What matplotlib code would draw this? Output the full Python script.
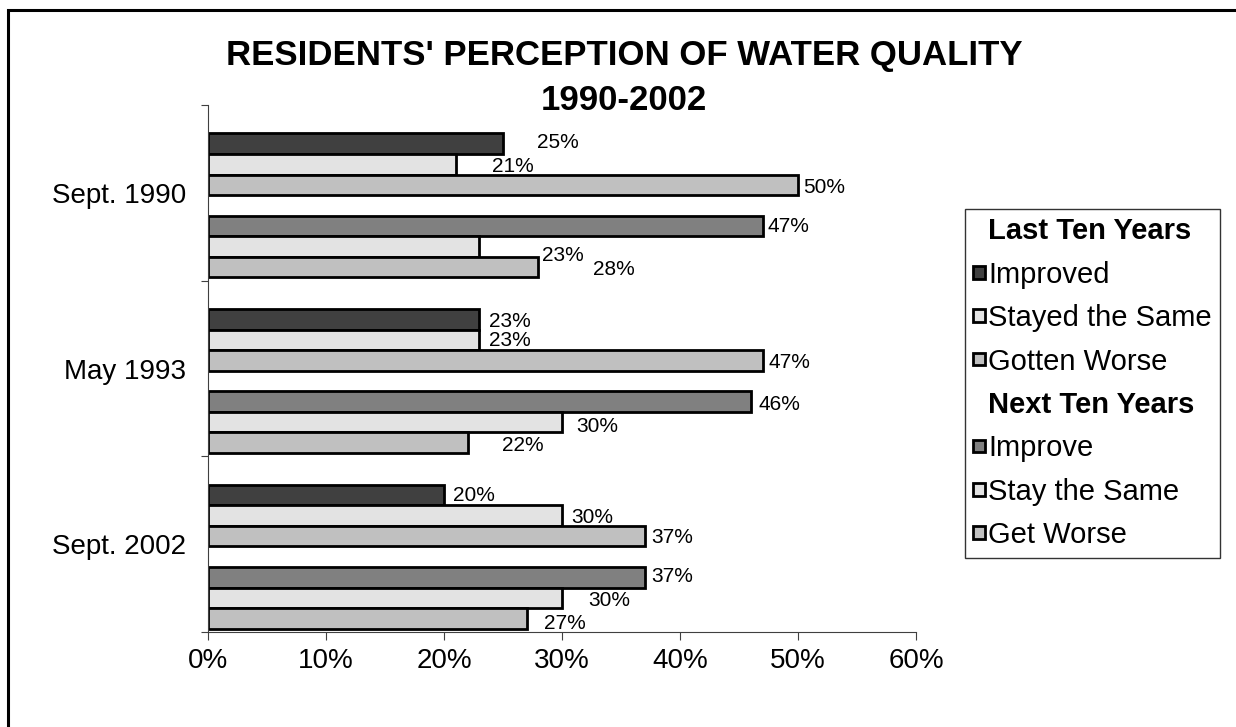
import numpy as np
import matplotlib
matplotlib.use('Agg')
import matplotlib.pyplot as plt
from matplotlib.patches import Patch, Rectangle

plt.rcParams['font.family'] = ['Liberation Sans', 'DejaVu Sans']

# data
periods = ['Sept. 1990', 'May 1993', 'Sept. 2002']
last_improved = [25, 23, 20]
last_same = [21, 23, 30]
last_worse = [50, 47, 37]
next_improve = [47, 46, 37]
next_same = [23, 30, 30]
next_worse = [28, 22, 27]

# (values, colour, slot in group, legend label)
series = [
    (last_improved, '#404040', 1, 'Improved'),
    (last_same, '#e3e3e3', 2, 'Stayed the Same'),
    (last_worse, '#c0c0c0', 3, 'Gotten Worse'),
    (next_improve, '#808080', 5, 'Improve'),
    (next_same, '#e3e3e3', 6, 'Stay the Same'),
    (next_worse, '#c0c0c0', 7, 'Get Worse'),
]

# hand-placed label nudges in pixels (dx right, dy down), like the original
nudges = [
    [(34, -3), (10, 0), (9, -1)],
    [(36, 1), (10, -1), (9, 0)],
    [(5, 1), (6, 0), (7, 0)],
    [(5, -1), (8, 1), (7, -2)],
    [(63, 7), (14, 3), (26, 1)],
    [(55, 1), (34, 1), (17, 3)],
]

fig = plt.figure(figsize=(12.36, 7.27), dpi=100)
ax = fig.add_axes([208/1236, 1-632/727, 708/1236, 527/727])

h = 0.117
top_off = 0.045
pos = np.arange(len(periods))
px = 0.72  # points per pixel

for k, (vals, col, slot, lab) in enumerate(series):
    y = pos + top_off + (slot + 0.5) * h
    ax.barh(y, vals, height=h, color=col, edgecolor='black', linewidth=2)
    for i, v in enumerate(vals):
        dx, dy = nudges[k][i]
        ax.annotate(f'{v}%', xy=(v, y[i]), xytext=(dx*px, -dy*px - 1.2),
                    textcoords='offset points', ha='left', va='center',
                    fontsize=15)

ax.set_xlim(0, 60)
ax.set_xticks(range(0, 61, 10))
ax.set_xticklabels([f'{t}%' for t in range(0, 61, 10)], fontsize=20)
ax.set_ylim(3, 0)
ax.set_yticks([0, 1, 2, 3])
ax.set_yticklabels([])
ax.set_yticks(pos + 0.5, minor=True)
ax.set_yticklabels(periods, minor=True, fontsize=20)
ax.tick_params(axis='y', which='minor', length=0, pad=16)
ax.tick_params(axis='y', which='major', length=5, color='#404040')
ax.tick_params(axis='x', length=6, pad=5.5, color='#404040')
for s in ['top', 'right']:
    ax.spines[s].set_visible(False)
for s in ['left', 'bottom']:
    ax.spines[s].set_color('#404040')

# legend with two blank header entries
blank = Patch(facecolor='none', edgecolor='none')
handles = [blank]
labels = ['Last Ten Years']
for k, (vals, col, slot, lab) in enumerate(series):
    if k == 3:
        handles.append(blank)
        labels.append('Next Ten Years')
    handles.append(Patch(facecolor=col, edgecolor='black', linewidth=2))
    labels.append(lab)
leg = fig.legend(handles, labels, loc='upper left',
                 bbox_to_anchor=(965/1236, 1-209/727), fontsize=21,
                 frameon=True, fancybox=False, edgecolor='black',
                 handlelength=0.4, handleheight=0.3, handletextpad=0.12,
                 labelspacing=0.53, borderpad=0.28, borderaxespad=0)
leg.get_frame().set_linewidth(1)
for t in leg.get_texts():
    if t.get_text().endswith('Ten Years'):
        t.set_fontweight('bold')

fig.text(0.505, 1-78/727, "RESIDENTS' PERCEPTION OF WATER QUALITY\n1990-2002",
         ha='center', va='center', fontsize=25, fontweight='bold',
         linespacing=1.45)

# outer chart border (top and left sides visible)
fig.add_artist(Rectangle((8/1236, -0.5), 2, 1.5 - 10/727,
                         transform=fig.transFigure, fill=False,
                         edgecolor='black', linewidth=2.2))

fig.savefig('out.png', dpi=100)
